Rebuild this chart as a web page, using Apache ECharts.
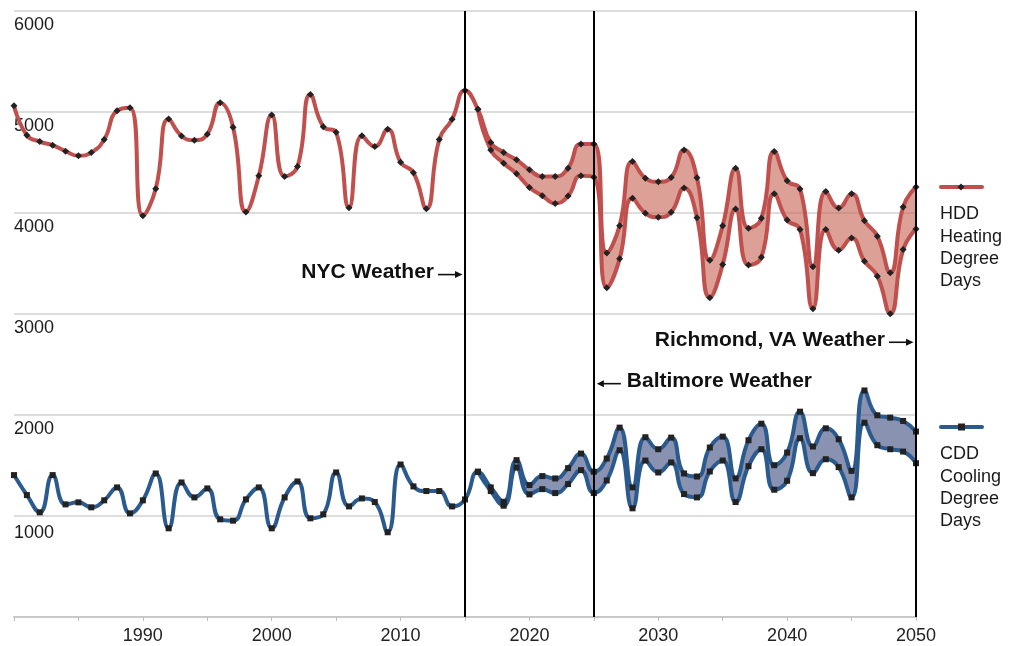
<!DOCTYPE html>
<html><head><meta charset="utf-8">
<script src="https://cdn.jsdelivr.net/npm/echarts@6/dist/echarts.min.js"></script>
<style>html,body{margin:0;padding:0;background:#fff}#c{width:1018px;height:646px}</style>
</head><body><div id="c"></div>
<script>
// ---------- data ----------
const firstYear = 1980, lastYear = 2050;
const years = [];
for (let y = firstYear; y <= lastYear; y++) years.push(String(y));

// HDD (heating degree days), 1980-2050 (upper / single line)
const hddUpper = [5062,4770,4707,4671,4612,4566,4599,4727,5013,5043,
  3974,4240,4931,4763,4720,4780,5092,4849,4010,4368,
  4970,4362,4461,5174,4855,4799,4053,4766,4658,4829,
  4503,4398,4043,4727,4928,5214,5026,
  4697,4599,4526,4428,4362,4362,4444,4684,4684,3605,3875,4510,4345,4309,4352,4625,4349,3533,3875,4444,3849,3947,4609,4319,4237,3467,4214,4049,4191,3924,3770,3408,4059,4257];
// HDD lower line, 2016-2050
const hddLower = [5026,4625,4493,4388,4253,4171,4095,4168,4368,4355,3260,3546,4145,3997,3957,4007,4247,3954,3161,3490,4039,3484,3562,4191,3931,3836,3053,3836,3632,3753,3523,3375,3003,3638,3842];

// CDD (cooling degree days), 1980-2050 (upper / single line)
const cddUpper = [1405,1207,1036,1405,1115,1135,1086,1155,1283,1026,
  1155,1421,878,1332,1184,1273,967,954,1164,1283,
  878,1184,1342,977,1016,1431,1095,1174,1138,839,
  1510,1293,1247,1247,1095,1164,1438,
  1283,1141,1553,1306,1395,1372,1474,1618,1438,1569,1875,1283,1780,1661,1776,1421,1391,1678,1786,1372,1750,1914,1503,1628,2033,1688,1868,1760,1447,2243,1997,1974,1941,1836];
// CDD lower line, 2016-2050
const cddLower = [1438,1247,1102,1480,1214,1266,1227,1316,1454,1227,1352,1651,1076,1549,1431,1530,1217,1184,1441,1549,1138,1493,1661,1260,1349,1770,1424,1562,1484,1184,1924,1701,1661,1638,1523];
const splitYear = 2016;

const yTicks = [0,1000,2000,3000,4000,5000,6000];
const markerYears = ['2015','2025','2050'];
const annotations = [
  {text:'NYC Weather', year:2015, level:3410, side:'left'},
  {text:'Richmond, VA Weather', year:2050, level:2740, side:'left'},
  {text:'Baltimore Weather', year:2025, level:2330, side:'right'}
];
const legendItems = [
  {name:'HDD', lines:['HDD','Heating','Degree','Days'], color:'#c0504d', symbol:'diamond'},
  {name:'CDD', lines:['CDD','Cooling','Degree','Days'], color:'#2b5a8e', symbol:'rect'}
];

// ---------- build ----------
const offset = splitYear - firstYear;
const pad = arr => Array(offset).fill(null).concat(arr);
const diff = (up, lo) => pad(lo.map((v, i) => up[offset + i] - v));

const RED = '#c0504d', BLUE = '#2b5a8e';
const FONT = '"Liberation Sans", Arial, sans-serif';
const SMOOTH = 0.5;

function lineSeries(name, data, color, symbol, size) {
  return {
    name, type:'line', data, smooth:SMOOTH, z:3,
    symbol, symbolSize:size, showSymbol:true, showAllSymbol:true,
    lineStyle:{color, width:4},
    itemStyle:{color:'#222', borderWidth:0},
    emphasis:{disabled:true}, silent:true
  };
}
function bandBase(data, stack) {
  return {type:'line', data, stack, smooth:SMOOTH, symbol:'none', z:1,
    lineStyle:{width:0, opacity:0}, silent:true};
}
function bandFill(data, stack, color) {
  return {type:'line', data, stack, smooth:SMOOTH, symbol:'none', z:1,
    lineStyle:{width:0, opacity:0}, areaStyle:{color, opacity:1}, silent:true};
}

const chart = echarts.init(document.getElementById('c'), null, {renderer:'canvas'});
const upperHdd = lineSeries('HDD', hddUpper, RED, 'diamond', 7);
upperHdd.markLine = {
  silent:true, symbol:['none','none'], animation:false,
  lineStyle:{color:'#000', width:2, type:'solid'}, label:{show:false},
  data: markerYears.map(y => ({xAxis:y}))
};
upperHdd.z = 4;

chart.setOption({
  animation:false,
  textStyle:{fontFamily:FONT},
  grid:{left:14, right:102, top:11, bottom:28, containLabel:false},
  xAxis:{
    type:'category', data:years, boundaryGap:false,
    axisLine:{lineStyle:{color:'#c8c8c8', width:2}},
    axisTick:{show:true, interval:(i)=> i % 5 === 0, length:4, lineStyle:{color:'#bdbdbd', width:1}},
    axisLabel:{interval:(i)=> i % 10 === 0 && i > 0, color:'#222', fontSize:18, margin:9, lineHeight:20, fontFamily:FONT},
    splitLine:{show:false}
  },
  yAxis:{
    type:'value', min:yTicks[0], max:yTicks[yTicks.length-1], interval:1000,
    axisLine:{show:false}, axisTick:{show:false},
    splitLine:{lineStyle:{color:'#d2d2d2', width:1.5}},
    axisLabel:{inside:true, margin:0, color:'#1a1a1a', fontSize:18, fontFamily:FONT,
      verticalAlign:'top', lineHeight:28,
      formatter:v => v === 0 ? '' : (v === 1000 ? '{b|1000}' : String(v)),
      rich:{b:{fontSize:18, lineHeight:35, fontFamily:FONT, color:'#1a1a1a'}}}
  },
  series:[
    bandBase(pad(hddLower), 'hdd'),
    bandFill(diff(hddUpper, hddLower), 'hdd', 'rgba(196,96,82,0.6)'),
    bandBase(pad(cddLower), 'cdd'),
    bandFill(diff(cddUpper, cddLower), 'cdd', 'rgba(60,73,127,0.6)'),
    lineSeries('HDD low', pad(hddLower), RED, 'diamond', 7),
    upperHdd,
    lineSeries('CDD low', pad(cddLower), BLUE, 'rect', 6),
    lineSeries('CDD', cddUpper, BLUE, 'rect', 6)
  ]
});

// ---------- annotations & legend ----------
const px = (yr, v) => chart.convertToPixel({xAxisIndex:0, yAxisIndex:0}, [yr - firstYear, v]);
const g = [];
annotations.forEach(a => {
  const [lx, ly] = px(a.year, a.level);
  const ay = ly + 2;
  const font = 'bold 21px ' + FONT;
  if (a.side === 'left') {
    g.push({type:'text', silent:true, style:{text:a.text, x:lx - 31, y:ly, align:'right', verticalAlign:'middle', font, fill:'#111'}});
    g.push({type:'line', silent:true, shape:{x1:lx - 27, y1:ay, x2:lx - 8, y2:ay}, style:{stroke:'#111', lineWidth:1.6}});
    g.push({type:'polygon', silent:true, shape:{points:[[lx - 10, ay - 3.5],[lx - 2.5, ay],[lx - 10, ay + 3.5]]}, style:{fill:'#111'}});
  } else {
    g.push({type:'text', silent:true, style:{text:a.text, x:lx + 33, y:ly, align:'left', verticalAlign:'middle', font, fill:'#111'}});
    g.push({type:'line', silent:true, shape:{x1:lx + 8, y1:ay, x2:lx + 27, y2:ay}, style:{stroke:'#111', lineWidth:1.6}});
    g.push({type:'polygon', silent:true, shape:{points:[[lx + 10, ay - 3.5],[lx + 3, ay],[lx + 10, ay + 3.5]]}, style:{fill:'#111'}});
  }
});
const legendTop = [187, 427];
legendItems.forEach((it, k) => {
  const y = legendTop[k];
  g.push({type:'line', silent:true, shape:{x1:941, y1:y, x2:982, y2:y}, style:{stroke:it.color, lineWidth:4, lineCap:'round'}});
  if (it.symbol === 'diamond') {
    g.push({type:'polygon', silent:true, shape:{points:[[961, y-3.5],[964.5, y],[961, y+3.5],[957.5, y]]}, style:{fill:'#222'}});
  } else {
    g.push({type:'rect', silent:true, shape:{x:958, y:y-3.5, width:7, height:7}, style:{fill:'#222'}});
  }
  g.push({type:'text', silent:true, style:{text:it.lines.join('\n'), x:940, y:y + 16, align:'left', verticalAlign:'top', font:'18px ' + FONT, lineHeight:22.4, fill:'#1a1a1a'}});
});
chart.setOption({graphic:{elements:g}});
</script>
</body></html>
